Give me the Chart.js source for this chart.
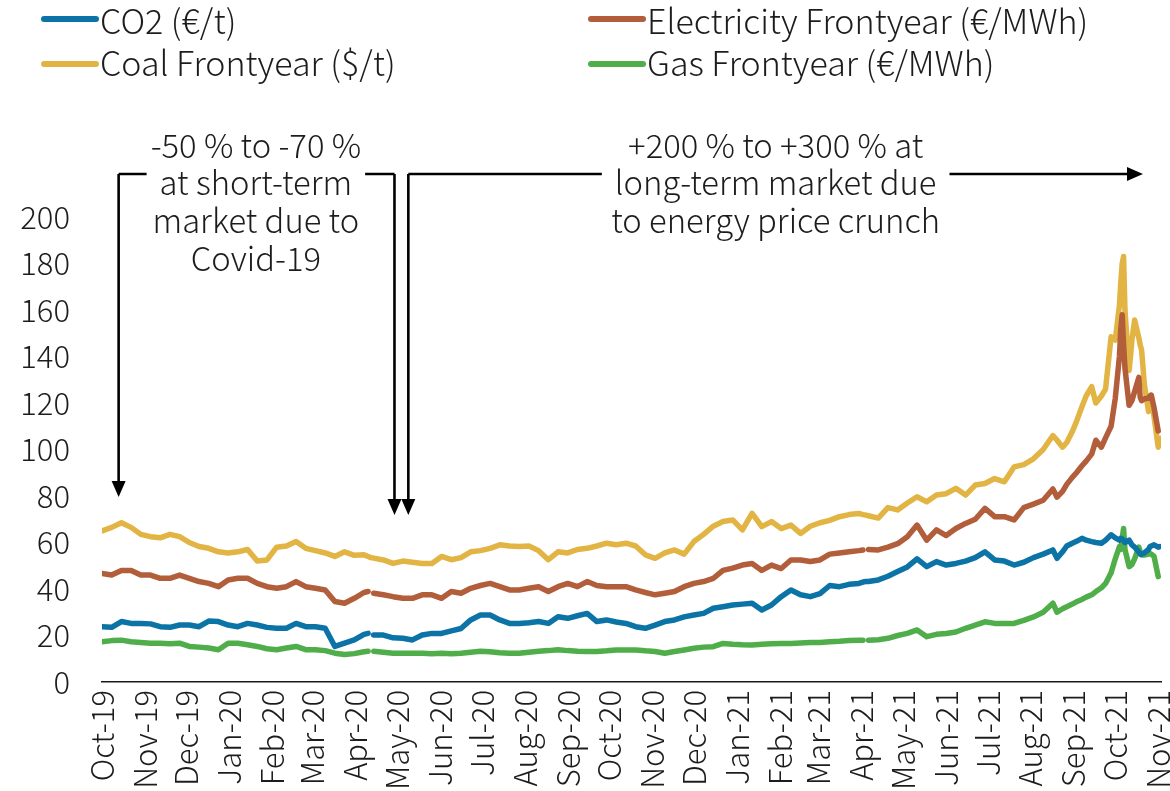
<!DOCTYPE html>
<html>
<head>
<meta charset="utf-8">
<script src="https://cdn.jsdelivr.net/npm/chart.js@4/dist/chart.umd.min.js"></script>
<style>
  html, body { margin: 0; padding: 0; background: #ffffff; }
  #wrap { width: 1170px; height: 791px; }
</style>
</head>
<body>
<div id="wrap"><canvas id="chart" width="1170" height="791"></canvas></div>
<script>
// Trading dates (weekly, denser through the autumn 2021 spike)
const dates = [
  '2019-10-01','2019-10-08','2019-10-15','2019-10-22','2019-10-29','2019-11-05','2019-11-12','2019-11-19','2019-11-26','2019-12-03',
  '2019-12-10','2019-12-17','2019-12-24','2019-12-31','2020-01-07','2020-01-14','2020-01-21','2020-01-28','2020-02-04','2020-02-11',
  '2020-02-18','2020-02-25','2020-03-03','2020-03-10','2020-03-17','2020-03-24','2020-03-31','2020-04-07','2020-04-10','2020-04-12',
  '2020-04-14','2020-04-21','2020-04-28','2020-05-05','2020-05-12','2020-05-19','2020-05-26','2020-06-02','2020-06-09','2020-06-16',
  '2020-06-23','2020-06-30','2020-07-07','2020-07-14','2020-07-21','2020-07-28','2020-08-04','2020-08-11','2020-08-18','2020-08-25',
  '2020-09-01','2020-09-08','2020-09-15','2020-09-22','2020-09-29','2020-10-06','2020-10-13','2020-10-20','2020-10-27','2020-11-03',
  '2020-11-10','2020-11-17','2020-11-24','2020-12-01','2020-12-08','2020-12-15','2020-12-22','2020-12-29','2021-01-05','2021-01-12',
  '2021-01-19','2021-01-26','2021-02-02','2021-02-09','2021-02-16','2021-02-23','2021-03-02','2021-03-09','2021-03-16','2021-03-23',
  '2021-03-30','2021-04-02','2021-04-04','2021-04-06','2021-04-13','2021-04-20','2021-04-27','2021-05-04','2021-05-11','2021-05-18',
  '2021-05-25','2021-06-01','2021-06-08','2021-06-15','2021-06-22','2021-06-29','2021-07-06','2021-07-13','2021-07-20','2021-07-27',
  '2021-08-03','2021-08-10','2021-08-17','2021-08-20','2021-08-24','2021-08-27','2021-08-31','2021-09-03','2021-09-07','2021-09-10',
  '2021-09-14','2021-09-17','2021-09-21','2021-09-24','2021-09-28','2021-10-01','2021-10-04','2021-10-05','2021-10-06','2021-10-07',
  '2021-10-08','2021-10-11','2021-10-12','2021-10-13','2021-10-15','2021-10-18','2021-10-19','2021-10-20','2021-10-22','2021-10-25',
  '2021-10-26','2021-10-27','2021-10-29','2021-11-01','2021-11-02','2021-11-03'
];

// CO2 (EUR/t)
const co2 = [
  23.8, 23.5, 26, 25.2, 25.2, 25, 23.8, 23.5, 24.5, 24.5,
  23.8, 26.2, 26, 24.5, 23.8, 25.2, 24.5, 23.5, 23.1, 23.1,
  25.2, 23.8, 23.8, 23.1, 15.3, 16.7, 18.1, 20.5, 20.9, null,
  20.2, 20.2, 19, 18.8, 18.1, 20.2, 20.9, 20.9, 22, 23,
  26.7, 28.8, 28.8, 26.7, 25.2, 25.2, 25.5, 26, 25.2, 28.1,
  27.4, 28.5, 29.5, 26, 26.7, 25.8, 25.2, 23.8, 23.1, 24.5,
  26, 26.7, 28, 28.8, 29.5, 31.7, 32.4, 33.1, 33.5, 33.9,
  31, 33.1, 36.7, 39.6, 37.5, 36.7, 38, 41.5, 41, 42,
  42.4, 43, 43.2, 43.2, 43.9, 45.5, 47.5, 49.5, 53, 49.6,
  51.8, 50.3, 51, 52, 53.5, 56, 52.5, 52, 50.3, 51.5,
  53.5, 55, 56.8, 53.2, 56, 58.5, 59.7, 60.5, 61.8, 61,
  60.4, 60, 59.7, 61, 63.3, 62, 61, 61.8, 61.5, 61,
  60, 61, 60, 59, 58, 56, 55, 55, 55.5, 57,
  58.2, 58.5, 59, 58, 58.2, null
];

// Electricity Frontyear (EUR/MWh)
const electricity = [
  46.7, 46, 48, 48, 46, 46, 44.6, 44.6, 46, 44.6,
  43.2, 42.4, 41, 43.9, 44.6, 44.6, 42.4, 41, 40.3, 41,
  43.2, 41, 40.3, 39.6, 34.6, 33.9, 36, 38.5, 38.9, null,
  38.2, 37.5, 36.7, 36, 36, 37.5, 37.5, 36, 38.9, 38.2,
  40.3, 41.5, 42.4, 41, 39.6, 39.6, 40.3, 41, 38.9, 41,
  42.4, 41, 43.2, 41.5, 41, 41, 41, 39.6, 38.5, 37.5,
  38.2, 38.9, 41, 42.4, 43.2, 44.6, 48, 49, 50.3, 51,
  48, 50.3, 48.8, 52.5, 52.5, 51.8, 52.5, 55, 55.5, 56,
  56.5, 56.8, null, 57, 56.8, 58, 59.5, 62.5, 67.5, 61,
  65.4, 63, 66, 68.2, 70, 74.7, 71.1, 71.1, 69.7, 75,
  76.5, 78.2, 83, 79.5, 82, 85, 88, 90, 93, 95,
  98, 104, 101, 105, 110, 122, 140, 152, 158, 145,
  135, 119, 120, 121, 125, 131, 122.5, 121, 121.8, 122,
  123, 123.3, 118, 108, null, null
];

// Coal Frontyear (USD/t)
const coal = [
  65, 66.5, 68.5, 66.5, 63.5, 62.5, 62, 63.5, 62.5, 60,
  58.3, 57.5, 56, 55.5, 56, 57, 52, 52.5, 58, 58.5,
  60.4, 57.5, 56.5, 55.5, 54, 56, 54.5, 54.7, 54, 53.5,
  53.3, 52.5, 51, 52, 51.5, 51, 51, 54, 52.6, 53.5,
  56, 56.5, 57.5, 59, 58.5, 58.3, 58.5, 56.5, 52.6, 56,
  55.5, 57, 57.5, 58.5, 59.7, 59, 59.7, 58.5, 54.7, 53.2,
  55.5, 56.8, 55, 60.4, 63.5, 67, 69, 69.7, 65.4, 72.5,
  66.8, 69, 66, 67.5, 63.9, 67, 68.5, 69.5, 71.1, 72,
  72.5, 72, 71.8, 71.5, 70.5, 75, 74, 77, 79.7, 77.5,
  80.4, 81, 83.3, 80.4, 84.7, 85.4, 87.5, 86.1, 92.5, 93.5,
  96, 100, 106, 104, 101, 103, 107.7, 112, 118.5, 123,
  127, 120, 123, 126, 148.5, 147, 162, 172, 180, 183,
  160, 134, 140, 147, 155.7, 148, 145, 142.8, 128, 116.3,
  120, 123.5, 114, 101, 103, 104.8
];

// Gas Frontyear (EUR/MWh)
const gas = [
  17.3, 17.8, 18, 17.3, 17, 16.7, 16.7, 16.5, 16.7, 15.3,
  15, 14.6, 13.9, 16.7, 16.7, 16, 15.3, 14.3, 13.9, 14.6,
  15.3, 13.9, 13.9, 13.5, 12.4, 11.8, 12.2, 13, 13.2, null,
  13.2, 12.8, 12.4, 12.4, 12.4, 12.4, 12.2, 12.4, 12.2, 12.4,
  12.8, 13.2, 13, 12.6, 12.4, 12.4, 12.8, 13.2, 13.5, 13.9,
  13.5, 13.2, 13.1, 13.1, 13.4, 13.8, 13.8, 13.8, 13.4, 13.1,
  12.4, 13.1, 13.8, 14.5, 15, 15.2, 16.6, 16.2, 16, 15.9,
  16.2, 16.4, 16.6, 16.6, 16.8, 17, 17, 17.3, 17.5, 17.8,
  18, 18, null, 18, 18.2, 18.8, 20, 20.9, 22.4, 19.5,
  20.5, 20.9, 21.5, 23.1, 24.5, 25.9, 25.2, 25.2, 25.2, 26.5,
  28, 30, 33.9, 30, 31.5, 32.4, 33.5, 34.5, 35.5, 36.5,
  37.5, 38.9, 40.5, 42.4, 47, 53, 58.2, 57, 62, 66,
  57, 49.6, 50, 50.5, 53, 58, 56, 54.6, 54.6, 55,
  55.3, 55, 54, 45.3, null, null
];

const monthLabels = [
  'Oct-19','Nov-19','Dec-19','Jan-20','Feb-20','Mar-20','Apr-20','May-20','Jun-20',
  'Jul-20','Aug-20','Sep-20','Oct-20','Nov-20','Dec-20','Jan-21','Feb-21','Mar-21',
  'Apr-21','May-21','Jun-21','Jul-21','Aug-21','Sep-21','Oct-21','Nov-21'
];
const yTicks = [0, 20, 40, 60, 80, 100, 120, 140, 160, 180, 200];

const seriesNames = ['CO2 (€/t)', 'Electricity Frontyear (€/MWh)', 'Coal Frontyear ($/t)', 'Gas Frontyear (€/MWh)'];
const seriesColors = ['#0B73A6', '#B25E3B', '#E2B444', '#4FAE4A'];

const noteShort = ['-50 % to -70 %', 'at short-term', 'market due to', 'Covid-19'];
const noteLong = ['+200 % to +300 % at', 'long-term market due', 'to energy price crunch'];

const FONT = '"Noto Sans CJK JP", "Noto Sans", sans-serif';
const TEXT = '#1c1c1c';

const MONTHS = ['Jan','Feb','Mar','Apr','May','Jun','Jul','Aug','Sep','Oct','Nov','Dec'];
function dayOf(iso) {
  return Date.UTC(+iso.slice(0, 4), +iso.slice(5, 7) - 1, +iso.slice(8, 10)) / 86400000;
}
function dayOfMonthLabel(lbl) {
  const [m, y] = lbl.split('-');
  return Date.UTC(2000 + +y, MONTHS.indexOf(m), 1) / 86400000;
}
function points(values) {
  return dates.map((d, i) => ({ x: dayOf(d), y: values[i] }));
}

const seriesValues = [co2, electricity, coal, gas];

// Legend in two columns, plus the two bracketed call-outs with arrows
const overlay = {
  id: 'overlay',
  afterDraw(chart) {
    const ctx = chart.ctx;
    const xs = chart.scales.x, ys = chart.scales.y;
    ctx.save();

    // legend
    const colX = [42, 589];
    const rowLineY = [19, 64];
    const rowTextY = [21, 63];
    ctx.font = '300 34px ' + FONT;
    ctx.textBaseline = 'middle';
    ctx.textAlign = 'left';
    chart.data.datasets.forEach((ds, i) => {
      const c = i % 2, r = Math.floor(i / 2);
      ctx.strokeStyle = ds.borderColor;
      ctx.lineWidth = 6;
      ctx.lineCap = 'round';
      ctx.beginPath();
      ctx.moveTo(colX[c] + 2, rowLineY[r]);
      ctx.lineTo(colX[c] + 54, rowLineY[r]);
      ctx.stroke();
      ctx.fillStyle = TEXT;
      ctx.fillText(ds.label, colX[c] + 58, rowTextY[r]);
    });

    // call-outs
    const bracketY = ys.getPixelForValue(218.5);
    const lineGap = 37.7;
    const gap = 13;
    ctx.strokeStyle = '#000';
    ctx.fillStyle = '#000';
    ctx.lineWidth = 2.6;
    ctx.lineCap = 'butt';

    function arrowDown(x, yTip) {
      ctx.beginPath();
      ctx.moveTo(x, bracketY);
      ctx.lineTo(x, yTip - 14);
      ctx.stroke();
      ctx.beginPath();
      ctx.moveTo(x - 7, yTip - 16);
      ctx.lineTo(x + 7, yTip - 16);
      ctx.lineTo(x, yTip);
      ctx.closePath();
      ctx.fill();
    }

    ctx.font = '300 32.8px ' + FONT;
    ctx.textAlign = 'center';
    ctx.textBaseline = 'middle';

    // short-term block
    const cxShort = xs.getPixelForValue(dayOf('2020-01-20'));
    const leftX = xs.getPixelForValue(dayOf('2019-10-13'));
    const midX1 = xs.getPixelForValue(dayOf('2020-04-29'));
    const midX2 = xs.getPixelForValue(dayOf('2020-05-09'));
    const wShort = ctx.measureText(noteShort[1]).width;
    ctx.beginPath();
    ctx.moveTo(leftX, bracketY);
    ctx.lineTo(cxShort - wShort / 2 - gap, bracketY);
    ctx.moveTo(cxShort + wShort / 2 + gap, bracketY);
    ctx.lineTo(midX1, bracketY);
    ctx.stroke();
    arrowDown(leftX, ys.getPixelForValue(79.6));
    arrowDown(midX1, ys.getPixelForValue(71.8));

    // long-term block
    const cxLong = xs.getPixelForValue(dayOf('2021-01-29'));
    const endX = xs.getPixelForValue(dayOf('2021-10-21'));
    const wLong = ctx.measureText(noteLong[1]).width;
    ctx.beginPath();
    ctx.moveTo(midX2, bracketY);
    ctx.lineTo(cxLong - wLong / 2 - gap, bracketY);
    ctx.moveTo(cxLong + wLong / 2 + gap, bracketY);
    ctx.lineTo(endX - 14, bracketY);
    ctx.stroke();
    ctx.beginPath();
    ctx.moveTo(endX - 16, bracketY - 7);
    ctx.lineTo(endX - 16, bracketY + 7);
    ctx.lineTo(endX, bracketY);
    ctx.closePath();
    ctx.fill();
    arrowDown(midX2, ys.getPixelForValue(71.8));

    ctx.fillStyle = TEXT;
    noteShort.forEach((t, i) => ctx.fillText(t, cxShort, bracketY - lineGap + i * lineGap + 9));
    noteLong.forEach((t, i) => ctx.fillText(t, cxLong, bracketY - lineGap + i * lineGap + 9));

    ctx.restore();
  }
};

new Chart(document.getElementById('chart'), {
  type: 'line',
  data: {
    datasets: seriesNames.map((name, i) => ({
      label: name,
      data: points(seriesValues[i]),
      borderColor: seriesColors[i],
      backgroundColor: seriesColors[i],
      borderWidth: 5.5,
      pointRadius: 0,
      tension: 0,
      fill: false,
      spanGaps: false,
      borderJoinStyle: 'round',
      borderCapStyle: 'round'
    }))
  },
  options: {
    responsive: false,
    animation: false,
    devicePixelRatio: 1,
    layout: { padding: { top: 217, right: 9, left: 0, bottom: 0 } },
    plugins: { legend: { display: false }, tooltip: { enabled: false } },
    scales: {
      x: {
        type: 'linear',
        min: dayOf('2019-10-01'),
        max: dayOf('2021-11-03'),
        grid: { display: false, drawTicks: false },
        border: { display: true, color: '#1a1a1a', width: 1.5 },
        afterBuildTicks(scale) {
          scale.ticks = monthLabels.map(l => ({ value: dayOfMonthLabel(l) }));
        },
        afterFit(scale) {
          scale.height = 109;
          scale.paddingLeft = 0;
          scale.paddingRight = 0;
        },
        ticks: {
          autoSkip: false,
          maxRotation: 90,
          minRotation: 90,
          padding: 8,
          color: TEXT,
          font: { family: FONT, size: 31, weight: '300' },
          callback: (v, i) => monthLabels[i]
        }
      },
      y: {
        min: 0,
        max: 200,
        grid: { display: false, drawTicks: false },
        border: { display: false },
        afterBuildTicks(scale) {
          scale.ticks = yTicks.map(v => ({ value: v }));
        },
        afterFit(scale) {
          scale.width = 102;
          scale.paddingTop = 0;
          scale.paddingBottom = 0;
        },
        ticks: {
          padding: 32,
          color: TEXT,
          font: { family: FONT, size: 31, weight: '300' }
        }
      }
    }
  },
  plugins: [overlay]
});
</script>
</body>
</html>
